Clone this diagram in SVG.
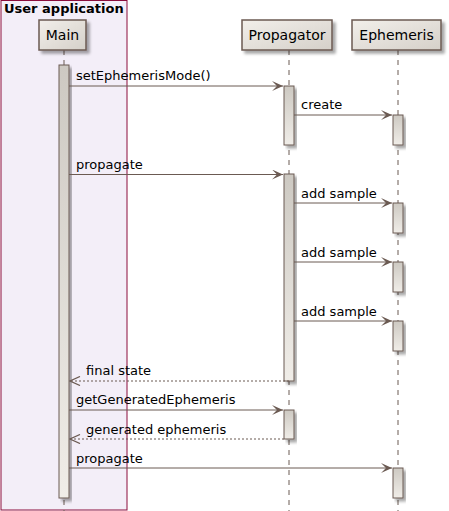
<svg xmlns="http://www.w3.org/2000/svg" width="449" height="511" viewBox="0 0 449 511">
<defs>
<linearGradient id="pg" x1="0" y1="0" x2="1" y2="1">
<stop offset="0" stop-color="#F2EFEA"/>
<stop offset="1" stop-color="#D5D0C9"/>
</linearGradient>
<linearGradient id="ag" x1="0" y1="0" x2="0" y2="1">
<stop offset="0" stop-color="#CDC9C2"/>
<stop offset="1" stop-color="#F0EDE8"/>
</linearGradient>
<filter id="sh" x="-20%" y="-20%" width="150%" height="150%">
<feGaussianBlur in="SourceAlpha" stdDeviation="1.5"/>
<feOffset dx="3" dy="3" result="b"/>
<feComponentTransfer><feFuncA type="linear" slope="0.35"/></feComponentTransfer>
<feMerge><feMergeNode/><feMergeNode in="SourceGraphic"/></feMerge>
</filter>
<marker id="ah" viewBox="0 0 12 10" refX="11" refY="5" markerWidth="12" markerHeight="10" markerUnits="userSpaceOnUse" orient="auto">
<polygon points="0,0 11,5 0,10 5,5" fill="#6B5A52"/>
</marker>
<marker id="ao" viewBox="0 0 12 10" refX="11" refY="5" markerWidth="12" markerHeight="10" markerUnits="userSpaceOnUse" orient="auto">
<polyline points="1,0.5 11,5 1,9.5" fill="none" stroke="#6B5A52" stroke-width="1.3"/>
</marker>
</defs>
<style>
.part{fill:url(#pg);stroke:#6B5A52;stroke-width:1.5;filter:url(#sh)}
.act{fill:url(#ag);stroke:#6B5A52;stroke-width:1;filter:url(#sh)}
.life{stroke:#6B5A52;stroke-width:1;stroke-dasharray:5,5}
.msg{stroke:#6B5A52;stroke-width:1;fill:none}
.ret{stroke:#6B5A52;stroke-width:1;fill:none;stroke-dasharray:2,2}
text{font-family:"DejaVu Sans",sans-serif;fill:#000}
.pt{font-size:14px;text-anchor:middle}
.mt{font-size:13px}
</style>
<g id="box-user-application">
<rect x="1" y="0.5" width="126" height="509.5" fill="#F3EEF8" stroke="#8B0D3C" stroke-width="1"/>
<text x="4" y="13" font-size="13" font-weight="bold">User application</text>
</g>
<g id="lifelines">
<line class="life" x1="64" y1="50" x2="64" y2="511"/>
<line class="life" x1="289" y1="50" x2="289" y2="511"/>
<line class="life" x1="398" y1="50" x2="398" y2="511"/>
</g>
<g id="node-main"><rect class="part" x="39" y="20" width="47" height="30"/><text class="pt" x="62.5" y="40">Main</text></g>
<g id="node-propagator"><rect class="part" x="242" y="20" width="90" height="30"/><text class="pt" x="287" y="40">Propagator</text></g>
<g id="node-ephemeris"><rect class="part" x="352" y="20" width="89" height="30"/><text class="pt" x="396.5" y="40">Ephemeris</text></g>
<g id="activations">
<rect class="act" x="59" y="65" width="10" height="433"/>
<rect class="act" x="284" y="86" width="10" height="59"/>
<rect class="act" x="393" y="115" width="10" height="30"/>
<rect class="act" x="284" y="174" width="10" height="207"/>
<rect class="act" x="393" y="203" width="10" height="30"/>
<rect class="act" x="393" y="262" width="10" height="30"/>
<rect class="act" x="393" y="321" width="10" height="30"/>
<rect class="act" x="284" y="410" width="10" height="29"/>
<rect class="act" x="393" y="468" width="10" height="30"/>
</g>
<g id="connectors">
<line class="msg" x1="69" y1="86" x2="283" y2="86" marker-end="url(#ah)"/>
<text class="mt" x="76" y="80">setEphemerisMode()</text>
<line class="msg" x1="294" y1="115" x2="392" y2="115" marker-end="url(#ah)"/>
<text class="mt" x="301" y="109">create</text>
<line class="msg" x1="69" y1="174.5" x2="283" y2="174.5" marker-end="url(#ah)"/>
<text class="mt" x="76" y="169">propagate</text>
<line class="msg" x1="294" y1="203" x2="392" y2="203" marker-end="url(#ah)"/>
<text class="mt" x="301" y="198">add sample</text>
<line class="msg" x1="294" y1="262" x2="392" y2="262" marker-end="url(#ah)"/>
<text class="mt" x="301" y="257">add sample</text>
<line class="msg" x1="294" y1="321" x2="392" y2="321" marker-end="url(#ah)"/>
<text class="mt" x="301" y="316">add sample</text>
<line class="ret" x1="289" y1="381" x2="70" y2="381" marker-end="url(#ao)"/>
<text class="mt" x="86" y="375">final state</text>
<line class="msg" x1="69" y1="410" x2="283" y2="410" marker-end="url(#ah)"/>
<text class="mt" x="76" y="404">getGeneratedEphemeris</text>
<line class="ret" x1="284" y1="439" x2="70" y2="439" marker-end="url(#ao)"/>
<text class="mt" x="86" y="434">generated ephemeris</text>
<line class="msg" x1="69" y1="468" x2="392" y2="468" marker-end="url(#ah)"/>
<text class="mt" x="76" y="463">propagate</text>
</g>
</svg>
